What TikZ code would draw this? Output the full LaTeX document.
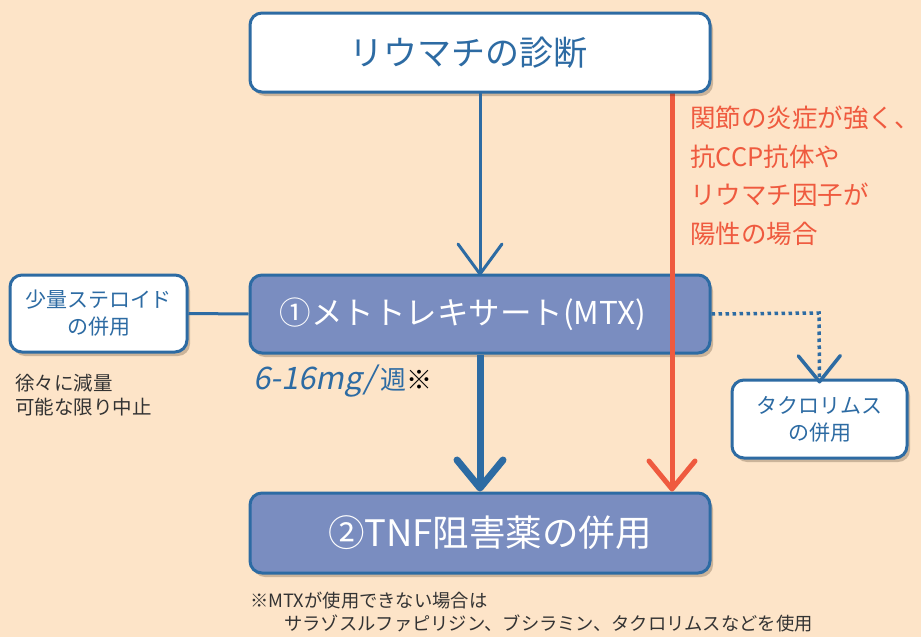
\documentclass[tikz,border=0pt]{standalone}
\usepackage{fontspec}
\setmainfont{Noto Sans CJK JP}
\newfontfamily\slantfont{Noto Sans CJK JP}[FakeSlant=0.2]
\usetikzlibrary{arrows.meta,shadows}
\definecolor{bg}{HTML}{FDE4C8}
\definecolor{bl}{HTML}{2D6BA3}
\definecolor{bfill}{HTML}{7A8DC0}
\definecolor{rd}{HTML}{EF5A3F}
\definecolor{gr}{HTML}{333333}
\tikzset{
  shade/.style={drop shadow={shadow xshift=3pt,shadow yshift=-4pt,opacity=0.25,fill=black!70!brown}},
  whitebox/.style={draw=bl,line width=3pt,fill=white,rounded corners=12pt,text=bl,align=center,shade},
  bluebox/.style={draw=bl,line width=3pt,fill=bfill,rounded corners=12pt,text=white,align=center,shade},
  note/.style={text=gr,align=left,anchor=west,inner sep=0pt},
}
\begin{document}
\begin{tikzpicture}[x=1pt,y=-1pt]
\fill[bg] (0,0) rectangle (921,637);
\useasboundingbox (0,0) rectangle (921,637);
\coordinate (rx) at (672,0);
\coordinate (dx) at (819,313);
% boxes
\node[bluebox,minimum width=460pt,minimum height=78pt,font=\fontsize{31.5}{34}\selectfont] (mtx) at (480,314) {①メトトレキサート(MTX)\hspace*{34pt}};
\node[bluebox,minimum width=460pt,minimum height=80pt,font=\fontsize{36.5}{38}\selectfont] (tnf) at (480,533) {\hspace*{20pt}②TNF阻害薬の併用};
% red line
\draw[rd,line width=5pt,line cap=round,-{Straight Barb[length=28pt,width=46pt,round]}] (rx |- 0,92) -- (tnf.north -| rx);
\node[whitebox,minimum width=460pt,minimum height=79pt,font=\fontsize{34}{38}\selectfont] (top) at (480,52.5) {リウマチの診断\hspace*{24pt}};
\node[whitebox,minimum width=177pt,minimum height=77pt,font=\fontsize{21}{27}\selectfont] (ster) at (98.5,313.5) {少量ステロイド\\の併用};
\node[whitebox,minimum width=175pt,minimum height=78pt,font=\fontsize{21}{27}\selectfont] (tac) at (819.5,419) {タクロリムス\\の併用};
% connectors
\draw[bl,line width=3pt,line cap=round,-{Straight Barb[length=30pt,width=44pt,round]}] (top.south) -- ([yshift=-2pt]mtx.north);
\draw[bl,line width=7pt,-{Straight Barb[length=28pt,width=46pt,round]}] (mtx.south) -- (tnf.north);
\draw[bl,line width=3pt] (ster.east) -- (mtx.west);
\draw[bl,line width=3.5pt,dash pattern=on 3.5pt off 3.5pt,-{Straight Barb[length=26pt,width=42pt,round]}] (mtx.east) -- (dx) -- ([yshift=-5pt]tac.north);
% red text
\node[text=rd,align=left,anchor=north west,inner sep=0pt,font=\fontsize{25.5}{38.5}\selectfont] (rtext) at (690,106) {関節の炎症が強く、\\抗CCP抗体や\\リウマチ因子が\\陽性の場合};
% notes
\node[note,font=\fontsize{19.5}{24.5}\selectfont] (n1) at (15,395) {徐々に減量\\可能な限り中止};
\node[note,text=bl,font=\fontsize{26}{28}\selectfont] (dose) at (253,381) {{\slantfont\fontsize{31}{34}\selectfont 6-16mg/}\hspace{5pt}週\textcolor{black}{※}};
\node[note,anchor=north west,font=\fontsize{18.3}{23}\selectfont] (n2) at (250,592) {※MTXが使用できない場合は\\\hspace*{34pt}サラゾスルファピリジン、ブシラミン、タクロリムスなどを使用};
\end{tikzpicture}
\end{document}
